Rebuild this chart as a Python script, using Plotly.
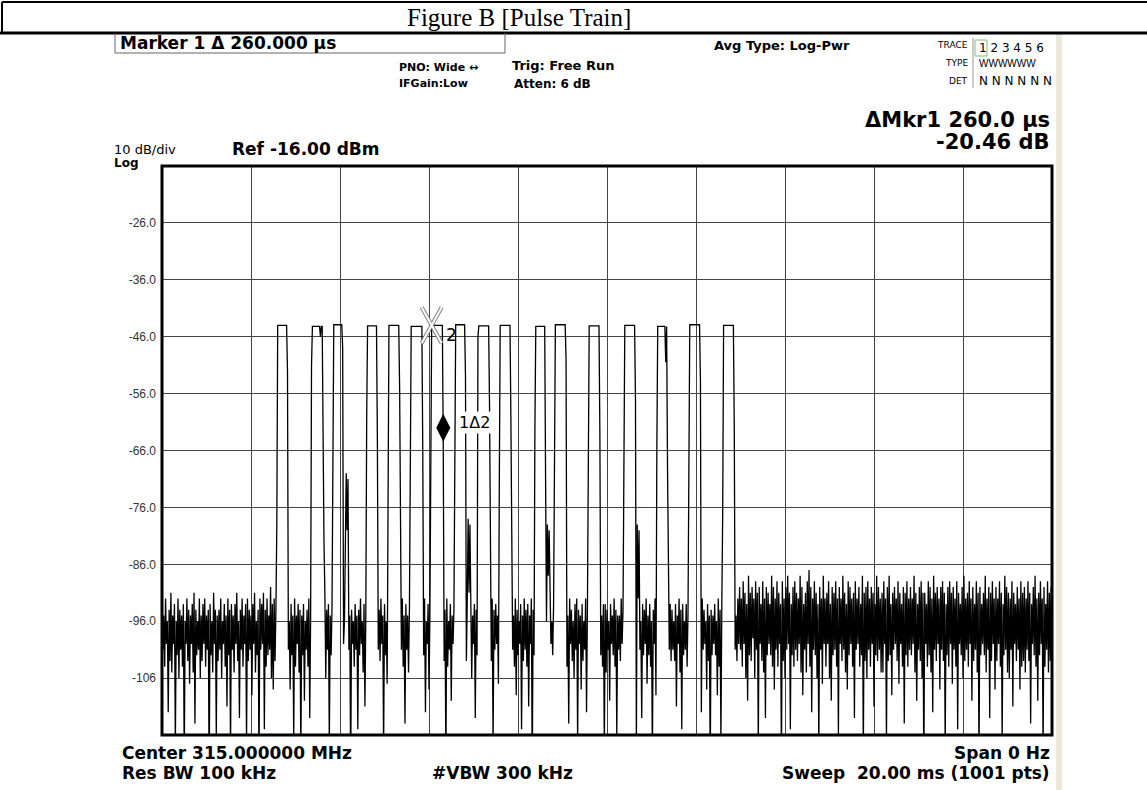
import plotly.graph_objects as go

# ---------------- data ----------------
SWEEP_MS = 20.0
N_POINTS = 1001
Y_MIN, Y_MAX = -116.0, -16.0
Y_TICKS = [-26, -36, -46, -56, -66, -76, -86, -96, -106]
Y_TICK_TEXT = ["-26.0", "-36.0", "-46.0", "-56.0", "-66.0", "-76.0", "-86.0", "-96.0", "-106"]

# pulse on-times (ms): first and last sample at the top of each pulse
PULSE_START_MS = [2.60, 3.38, 3.86, 4.62, 5.10, 5.60, 6.06, 6.60, 7.12, 7.60,
                  8.40, 8.84, 9.60, 10.40, 11.14, 11.86, 12.62]
PULSE_END_MS = [2.80, 3.60, 4.04, 4.82, 5.32, 5.84, 6.30, 6.80, 7.34, 7.82,
                8.60, 9.06, 9.82, 10.62, 11.34, 12.08, 12.84]
PULSE_TOP_DBM = [-44.0, -44.2, -43.9, -44.1, -44.0, -44.2, -44.0, -43.9, -44.1,
                 -44.0, -44.2, -43.9, -44.1, -44.0, -44.2, -43.9, -44.0]
RISE_EDGE_DBM = [-79, -51, -70, -60, -75, -58, -68, -55, -46, -72,
                 -62, -57, -74, -53, -66, -61, -77]
FALL_EDGE_DBM = [-52, -70, -48, -64, -55, -66, -64.46, -53, -58, -60,
                 -71, -50, -63, -57, -69, -54, -62]

# single samples that stand out from the noise (ms, dBm)
SPIKE_MS = [3.56, 3.64, 3.66, 4.12, 4.14, 4.16, 4.18, 6.88, 6.90, 6.92,
            8.66, 8.68, 8.70, 10.68, 10.70, 10.72, 11.32]
SPIKE_DBM = [-46.0, -82, -91, -80, -70, -80, -71, -78, -91, -79,
             -79, -88, -80, -79, -92, -80, -50.5]

# noise floor samples (dB below 0 dBm), in sweep order, for all off-pulse samples
NOISE_DB_BELOW = [
    93, 101, 95, 104, 92, 100, 96, 112, 94, 103, 91, 105, 95, 100, 93, 118,
    96, 102, 92, 106, 94, 101, 95, 104, 93, 121, 96, 100, 92, 103, 94, 107,
    95, 100, 93, 105, 91, 114, 94, 102, 96, 101, 92, 106, 95, 103, 93, 100,
    92, 104, 95, 101, 94, 125, 93, 102, 96, 105, 91, 100, 94, 116, 95, 103,
    94, 101, 92, 106, 96, 100, 93, 104, 95, 111, 92, 102, 94, 119, 93, 101,
    95, 105, 93, 100, 91, 103, 96, 113, 94, 101, 92, 104, 95, 100, 93, 117,
    92, 103, 94, 101, 95, 109, 93, 100, 91, 105, 96, 102, 94, 122, 92, 101,
    93, 100, 91, 115, 94, 104, 92, 102, 95, 101, 90, 106, 93, 108, 92, 103,
    94, 101, 96, 108, 93, 102, 95, 117, 92, 104, 95, 100, 93, 105, 94, 120,
    95, 102, 93, 110, 96, 101, 94, 104, 92, 113, 95, 100, 93, 106, 94, 101,
    93, 118, 95, 102, 94, 100, 96, 109, 93, 103, 92, 101, 95, 124, 94, 100,
    96, 104, 93, 101, 95, 115, 94, 102, 92, 100, 96, 105, 93, 111, 95, 101,
    94, 103, 92, 100, 95, 119, 93, 102, 96, 107, 94, 101, 92, 104, 95, 114,
    93, 101, 95, 105, 94, 102, 92, 112, 96, 100, 93, 108, 95, 103, 94, 121,
    92, 104, 96, 101, 93, 110, 95, 100, 94, 103, 92, 116, 95, 102, 93, 106,
    95, 100, 93, 113, 94, 102, 96, 103, 92, 118, 94, 101, 93, 100, 95, 107,
    93, 101, 95, 104, 92, 109, 94, 102, 96, 100, 93, 115, 95, 103, 92, 101,
    94, 104, 93, 111, 95, 100, 92, 123, 94, 102, 96, 101, 93, 108, 95, 100,
    96, 102, 93, 104, 95, 114, 92, 100, 94, 103, 96, 106, 93, 101, 92, 117,
    94, 100, 95, 108, 93, 103, 96, 101, 92, 112, 94, 102, 95, 104, 93, 119,
    93, 105, 94, 101, 96, 110, 93, 100, 95, 102, 92, 104, 94, 116, 95, 101,
    95, 103, 92, 100, 94, 118, 93, 106, 95, 101, 96, 113, 93, 102, 94, 100,
    92, 107, 95, 102, 93, 104, 96, 120, 94, 100, 92, 109, 95, 101, 93, 103,
    94, 101, 96, 103, 93, 111, 95, 100, 92, 105, 94, 115, 93, 102, 96, 101,
    93, 104, 95, 112, 92, 101, 94, 100, 96, 108, 93, 103, 95, 122, 94, 102,
    95, 100, 93, 102, 96, 109, 92, 104, 94, 117, 93, 101, 95, 103, 92, 100,
    90, 101, 92, 104, 89, 100, 91, 106, 93, 110, 88, 102, 91, 103, 90, 99,
    92, 106, 89, 101, 91, 118, 90, 100, 93, 103, 89, 105, 92, 113, 90, 102,
    91, 100, 93, 102, 88, 104, 90, 108, 92, 101, 89, 104, 91, 100, 93, 121,
    89, 103, 92, 106, 90, 101, 88, 100, 91, 115, 93, 102, 90, 104, 89, 101,
    91, 103, 92, 100, 88, 105, 90, 109, 93, 101, 91, 105, 89, 100, 87, 104,
    90, 112, 92, 101, 89, 102, 91, 106, 93, 119, 90, 101, 92, 107, 88, 100,
    92, 104, 91, 100, 89, 106, 93, 110, 90, 102, 91, 101, 89, 104, 92, 116,
    90, 100, 92, 103, 88, 101, 91, 105, 93, 108, 89, 102, 90, 100, 92, 104,
    91, 113, 89, 101, 92, 100, 90, 104, 93, 102, 88, 120, 91, 103, 90, 106,
    89, 101, 92, 104, 90, 100, 91, 111, 93, 102, 88, 103, 90, 101, 92, 105,
    91, 105, 89, 100, 92, 117, 90, 103, 88, 102, 93, 109, 91, 101, 90, 100,
    92, 103, 89, 107, 91, 100, 93, 104, 90, 114, 91, 102, 89, 104, 92, 101,
    90, 102, 92, 100, 88, 105, 91, 110, 93, 101, 90, 103, 89, 106, 91, 123,
    91, 100, 93, 104, 89, 102, 90, 105, 92, 112, 88, 101, 91, 103, 90, 100,
    92, 108, 90, 101, 89, 103, 91, 118, 93, 102, 90, 104, 89, 100, 91, 107,
    90, 101, 92, 104, 89, 115, 91, 100, 93, 102, 90, 106, 88, 103, 92, 101,
    91, 104, 89, 100, 92, 110, 90, 103, 93, 101, 89, 105, 91, 121, 90, 102,
    93, 100, 91, 102, 88, 105, 92, 101, 90, 113, 91, 103, 89, 100, 92, 108,
    90, 103, 92, 100, 89, 104, 91, 117, 93, 102, 88, 101, 90, 105, 91, 106,
    92, 101, 89, 111, 91, 100, 93, 103, 90, 101, 92, 108, 89, 104, 91, 103,
    90, 105, 92, 101, 89, 103, 91, 114, 93, 100, 90, 102, 88, 104, 92, 110,
    91, 102, 89, 100, 92, 119, 90, 104, 93, 101, 89, 105, 91, 103, 90, 101,
]

MARKER2_MS = 6.06
MARKER1_MS = 6.32

# ---------------- build the trace ----------------
dt = SWEEP_MS / (N_POINTS - 1)


def idx(ms):
    return int(round(ms / dt))


level = [None] * N_POINTS
for s, e, top, rise, fall in zip(PULSE_START_MS, PULSE_END_MS, PULSE_TOP_DBM,
                                 RISE_EDGE_DBM, FALL_EDGE_DBM):
    i0, i1 = idx(s), idx(e)
    for i in range(i0, i1 + 1):
        level[i] = top
    level[i0 - 1] = rise
    level[i1 + 1] = fall
k = 0
for i in range(N_POINTS):
    if level[i] is None:
        level[i] = -float(NOISE_DB_BELOW[min(k, len(NOISE_DB_BELOW) - 1)])
        k += 1
for ms, v in zip(SPIKE_MS, SPIKE_DBM):
    level[idx(ms)] = v
times = [i * dt for i in range(N_POINTS)]

# ---------------- page geometry (pixels) ----------------
FIG_W, FIG_H = 1147, 790
L, R, T, B = 162, 1052, 166, 735
PW, PH = R - L, B - T
PX_PER_MS = PW / SWEEP_MS
PX_PER_DB = PH / (Y_MAX - Y_MIN)


def xp(px):
    return (px - L) / PW


def yp(py):
    return (B - py) / PH


fig = go.Figure()
fig.add_trace(go.Scatter(x=times, y=level, mode="lines",
                         line=dict(color="black", width=1.3), hoverinfo="skip",
                         showlegend=False))

# marker 2 (X) and marker 1 (diamond)
m2v = level[idx(MARKER2_MS)]
m1v = level[idx(MARKER1_MS)]
dx = 10 / PX_PER_MS
dy = 18 / PX_PER_DB
xs = [MARKER2_MS - dx, MARKER2_MS + dx, None, MARKER2_MS - dx, MARKER2_MS + dx]
ys = [m2v + dy, m2v - dy, None, m2v - dy, m2v + dy]
fig.add_trace(go.Scatter(x=xs, y=ys, mode="lines", line=dict(color="#808080", width=4),
                         hoverinfo="skip", showlegend=False))
fig.add_trace(go.Scatter(x=xs, y=ys, mode="lines", line=dict(color="white", width=2),
                         hoverinfo="skip", showlegend=False))
fig.add_trace(go.Scatter(x=[MARKER1_MS], y=[m1v + 14 / PX_PER_DB], mode="markers",
                         marker=dict(symbol="diamond-tall", size=20, color="black"),
                         hoverinfo="skip", showlegend=False))

SANS = "DejaVu Sans"
NARROW = "Liberation Sans Narrow, Liberation Sans, Arial"

ann = []


def text(s, px, py, size, anchor="left", family=SANS, color="black", bold=True, **kw):
    ann.append(dict(text=("<b>%s</b>" % s) if bold else s, x=xp(px), y=yp(py),
                    xref="paper", yref="paper", xanchor=anchor, yanchor="middle",
                    showarrow=False, font=dict(family=family, size=size, color=color), **kw))


text("Figure B [Pulse Train]", 519, 17, 25, anchor="center",
     family="Liberation Serif, Times New Roman", bold=False)
text("Marker 1 Δ 260.000 µs", 118, 43, 17)
text("PNO: Wide ↔", 397, 68, 11)
text("IFGain:Low", 397, 84, 11)
text("Trig: Free Run", 510, 66, 13)
text("Atten: 6 dB", 512, 84, 12)
text("Avg Type: Log-Pwr", 712, 46, 13)
text("TRACE", 970, 45, 9, anchor="right", bold=False)
text("1 2 3 4 5 6", 977, 48, 12, bold=False)
text("TYPE", 970, 63, 9, anchor="right", bold=False)
text("WWWWWW", 977, 64, 10, bold=False, family=NARROW)
text("DET", 970, 81, 9, anchor="right", bold=False)
text("N N N N N N", 977, 81, 12, bold=False)
text("ΔMkr1 260.0 µs", 1052, 120, 21, anchor="right")
text("-20.46 dB", 1052, 142, 21, anchor="right")
text("10 dB/div", 112, 149, 13, bold=False)
text("Log", 112, 163, 12)
text("Ref -16.00 dBm", 230, 149, 17)
text("Center 315.000000 MHz", 120, 753, 17)
text("Span 0 Hz", 1052, 753, 17, anchor="right")
text("Res BW 100 kHz", 120, 773, 17)
text("#VBW 300 kHz", 430, 773, 17)
text("Sweep \u00a020.00 ms (1001 pts)", 1052, 773, 17, anchor="right")

# marker labels, tied to marker positions
ann.append(dict(text="2", x=MARKER2_MS, y=m2v, xref="x", yref="y", xshift=20, yshift=-10,
                showarrow=False, font=dict(family=SANS, size=17, color="black")))
ann.append(dict(text="1Δ2", x=MARKER1_MS, y=m1v, xref="x", yref="y", xshift=31, yshift=19,
                showarrow=False, bgcolor="white", font=dict(family=SANS, size=16, color="black")))

shapes = []


def line(x0, y0, x1, y1, color="black", width=1):
    shapes.append(dict(type="line", xref="paper", yref="paper", x0=xp(x0), y0=yp(y0),
                       x1=xp(x1), y1=yp(y1), line=dict(color=color, width=width)))


line(2, 2, 1147, 2, width=2)
line(2, 2, 2, 33, width=2)
line(0, 33, 1147, 33, width=3)
line(115, 33, 115, 53, color="#666", width=1)
line(115, 53, 505, 53, color="#666", width=1)
line(505, 33, 505, 53, color="#666", width=1)
line(973, 38, 973, 88, color="#999", width=1)
shapes.append(dict(type="rect", xref="paper", yref="paper", x0=xp(975), x1=xp(987),
                   y0=yp(56), y1=yp(40), line=dict(color="#7fbf7f", width=1)))
shapes.append(dict(type="rect", xref="paper", yref="paper", x0=xp(1056), x1=xp(1062),
                   y0=yp(790), y1=yp(33), fillcolor="#ECE9D8", line=dict(width=0),
                   layer="below"))
# plot frame
shapes.append(dict(type="rect", xref="paper", yref="paper", x0=0, x1=1, y0=0, y1=1,
                   line=dict(color="black", width=3)))

fig.update_layout(
    width=FIG_W, height=FIG_H,
    margin=dict(l=L, r=FIG_W - R, t=T, b=FIG_H - B, pad=0),
    paper_bgcolor="white", plot_bgcolor="white",
    annotations=ann, shapes=shapes,
    xaxis=dict(range=[0, SWEEP_MS], dtick=2, tick0=0, showgrid=True, gridcolor="#444",
               gridwidth=1, showticklabels=False, zeroline=False, ticks="", showline=False),
    yaxis=dict(range=[Y_MIN, Y_MAX], tickvals=Y_TICKS, ticktext=Y_TICK_TEXT, showgrid=True,
               gridcolor="#444", gridwidth=1, zeroline=False, ticks="", showline=False,
               tickfont=dict(family=NARROW, size=12, color="#333"), ticklabelstandoff=5),
    showlegend=False,
)

fig.write_html("out.html", config={"displayModeBar": False},
               post_script="document.body.style.margin='0';")
